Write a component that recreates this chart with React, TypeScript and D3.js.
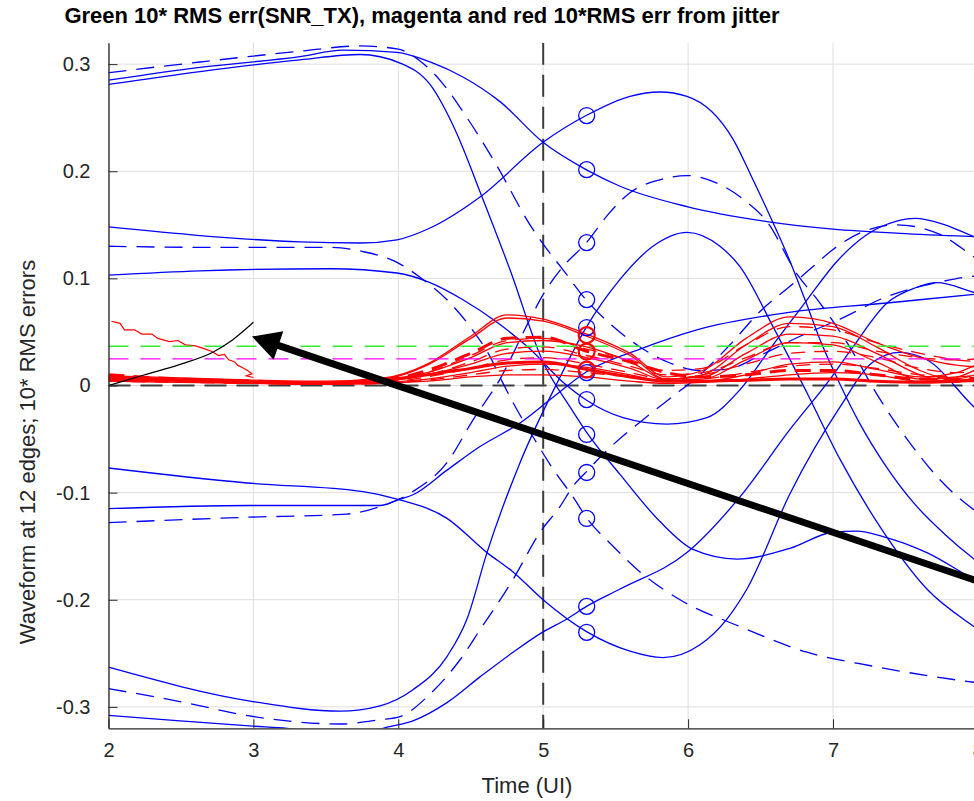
import * as d3 from 'd3';
import { useEffect, useRef } from 'react';

const W = 974;
const H = 801;

const X_TICKS = [2, 3, 4, 5, 6, 7, 8];
const Y_TICKS = [-0.3, -0.2, -0.1, 0, 0.1, 0.2, 0.3];

// blue waveforms of the 12 edges, [time (UI), value]
const edgeA = [[2, 0.281], [2.631, 0.293], [3.322, 0.304], [3.736, 0.309], [4.012, 0.301], [4.219, 0.281], [4.391, 0.239], [4.578, 0.176], [4.771, 0.108], [4.999, 0.022], [5.185, -0.02], [5.296, -0.043], [5.53, -0.083], [5.806, -0.127], [6.034, -0.153], [6.337, -0.162], [6.703, -0.152], [7.0, -0.137], [7.166, -0.136], [7.345, -0.141], [7.648, -0.156], [7.973, -0.181], [8.4, -0.21]];
const edgeB = [[2, 0.285], [2.631, 0.297], [3.322, 0.307], [3.618, 0.313], [3.991, 0.311], [4.219, 0.302], [4.446, 0.288], [4.702, 0.265], [4.999, 0.227], [5.296, 0.2015], [5.53, 0.186], [5.992, 0.167], [6.544, 0.153], [7.0, 0.146], [7.462, 0.142], [7.973, 0.139], [8.4, 0.137]];
const edgeC = [[2, 0.292], [2.631, 0.302], [3.322, 0.312], [3.736, 0.317], [4.0, 0.314], [4.15, 0.303], [4.3, 0.283], [4.474, 0.25], [4.681, 0.205], [4.909, 0.15], [5.0, 0.132], [5.137, 0.108], [5.296, 0.08], [5.475, 0.056], [5.668, 0.036], [5.875, 0.021], [6.082, 0.014], [6.268, 0.015], [6.496, 0.028], [6.773, 0.046], [7.049, 0.062], [7.373, 0.083], [7.717, 0.096], [7.973, 0.102], [8.4, 0.104]];
const edgeD = [[2, 0.148], [2.631, 0.14], [3.322, 0.134], [3.736, 0.133], [3.991, 0.136], [4.219, 0.147], [4.564, 0.176], [4.999, 0.227], [5.296, 0.252], [5.599, 0.27], [5.806, 0.274], [5.992, 0.27], [6.31, 0.23], [6.448, 0.192], [6.586, 0.152], [6.703, 0.116], [6.807, 0.08], [6.91, 0.043], [7.049, 0.001], [7.187, -0.036], [7.359, -0.074], [7.566, -0.111], [7.773, -0.139], [7.973, -0.162], [8.4, -0.2]];
const edgeE = [[2, 0.13], [2.631, 0.129], [3.529, 0.129], [3.757, 0.125], [3.991, 0.115], [4.17, 0.099], [4.336, 0.08], [4.495, 0.055], [4.633, 0.027], [4.723, 0.002], [4.8, -0.018], [4.93, -0.048], [5.068, -0.078], [5.206, -0.104], [5.302, -0.124], [5.482, -0.15], [5.668, -0.174], [5.944, -0.2], [6.358, -0.225], [6.821, -0.249], [7.276, -0.262], [7.973, -0.277], [8.4, -0.283]];
const edgeF = [[2, 0.103], [2.631, 0.107], [3.529, 0.109], [3.991, 0.105], [4.219, 0.096], [4.446, 0.08], [4.681, 0.059], [4.909, 0.034], [5.137, 0.003], [5.302, -0.014], [5.551, -0.03], [5.854, -0.036], [6.13, -0.03], [6.358, -0.004], [6.586, 0.038], [6.821, 0.08], [7.028, 0.116], [7.235, 0.141], [7.428, 0.153], [7.566, 0.156], [7.773, 0.15], [7.973, 0.139], [8.4, 0.125]];
const edgeG = [[2, -0.128], [2.956, -0.123], [3.646, -0.12], [3.874, -0.113], [4.101, -0.099], [4.336, -0.072], [4.516, -0.032], [4.702, 0.006], [4.909, 0.062], [5.0, 0.085], [5.137, 0.111], [5.296, 0.133], [5.45, 0.16], [5.599, 0.18], [5.806, 0.192], [5.992, 0.196], [6.199, 0.189], [6.379, 0.174], [6.544, 0.153], [6.752, 0.104], [6.91, 0.077], [7.097, 0.04], [7.325, -0.013], [7.511, -0.05], [7.738, -0.088], [7.973, -0.116], [8.4, -0.14]];
const edgeH = [[2, -0.115], [2.977, -0.112], [3.874, -0.112], [4.012, -0.106], [4.101, -0.102], [4.336, -0.079], [4.564, -0.057], [4.84, -0.035], [5.068, -0.011], [5.302, 0.013], [5.668, 0.034], [6.061, 0.052], [6.682, 0.068], [7.373, 0.077], [7.973, 0.085], [8.4, 0.09]];
const edgeI = [[2, -0.077], [2.956, -0.091], [3.757, -0.099], [3.991, -0.106], [4.336, -0.124], [4.612, -0.156], [4.792, -0.174], [4.999, -0.2], [5.302, -0.23], [5.599, -0.248], [5.826, -0.254], [6.082, -0.242], [6.268, -0.218], [6.406, -0.19], [6.703, -0.101], [7.049, -0.02], [7.276, 0.022], [7.462, 0.031], [7.648, 0.024], [7.973, -0.02], [8.4, -0.07]];
const edgeJ = [[2, -0.263], [2.997, -0.295], [3.598, -0.304], [3.874, -0.299], [4.101, -0.284], [4.336, -0.253], [4.474, -0.218], [4.612, -0.156], [4.84, -0.072], [5.102, 0.004], [5.296, 0.054], [5.53, 0.099], [5.757, 0.13], [5.992, 0.143], [6.22, 0.13], [6.358, 0.111], [6.586, 0.055], [6.821, -0.007], [7.049, -0.069], [7.325, -0.132], [7.648, -0.19], [7.973, -0.225], [8.4, -0.26]];
const edgeK = [[2, -0.283], [2.493, -0.295], [2.997, -0.309], [3.598, -0.316], [3.874, -0.312], [4.012, -0.309], [4.219, -0.288], [4.426, -0.256], [4.564, -0.228], [4.792, -0.181], [4.978, -0.137], [5.116, -0.113], [5.206, -0.094], [5.302, -0.08], [5.392, -0.067], [5.716, -0.029], [5.896, -0.01], [6.082, 0.01], [6.289, 0.038], [6.496, 0.069], [6.724, 0.095], [6.862, 0.111], [7.0, 0.127], [7.235, 0.145], [7.442, 0.15], [7.738, 0.141], [7.973, 0.12], [8.4, 0.08]];
const edgeL = [[2, -0.308], [2.493, -0.313], [2.997, -0.318], [3.232, -0.32], [3.529, -0.325], [3.736, -0.326], [3.922, -0.319], [4.101, -0.313], [4.336, -0.296], [4.564, -0.272], [4.792, -0.249], [4.999, -0.23], [5.164, -0.218], [5.302, -0.206], [5.53, -0.19], [5.992, -0.156], [6.358, -0.104], [6.703, -0.041], [6.98, 0.006], [7.138, 0.036], [7.373, 0.077], [7.565, 0.091], [7.717, 0.096], [7.973, 0.087], [8.4, 0.07]];

const BLUE_SOLID = [edgeA, edgeB, edgeD, edgeF, edgeH, edgeI, edgeJ, edgeL];
const BLUE_DASHED = [edgeC, edgeE, edgeG, edgeK];

// sampling instant and the values marked there
const SAMPLE_T = 5.3;
const SAMPLE_BLUE = [0.252, 0.2015, 0.1334, 0.0802, 0.0541, 0.0121, -0.0131, -0.0457, -0.0812, -0.1241, -0.2062, -0.2304];
const SAMPLE_RED = [0.047, 0.0317, 0.0149];

// red 10*RMS jitter error curves on a common time grid
const RED_T = [2, 2.5, 3, 3.5, 3.9, 4.2, 4.5, 4.75, 5.0, 5.3, 5.6, 5.85, 6.1, 6.4, 6.7, 7.0, 7.3, 7.6, 7.85, 8.1, 8.4];
const redSolid1 = [0.009, 0.007, 0.005, 0.004, 0.007, 0.02, 0.046, 0.066, 0.062, 0.048, 0.03, 0.008, 0.014, 0.044, 0.064, 0.058, 0.04, 0.026, 0.019, 0.017, 0.018];
const redSolid2 = [0.008, 0.006, 0.004, 0.003, 0.006, 0.019, 0.044, 0.063, 0.06, 0.046, 0.028, 0.006, 0.01, 0.038, 0.058, 0.055, 0.036, 0.014, 0.005, 0.01, 0.022];
const redSolid3 = [0.007, 0.005, 0.003, 0.003, 0.005, 0.012, 0.026, 0.04, 0.042, 0.036, 0.022, 0.006, 0.008, 0.03, 0.048, 0.046, 0.03, 0.01, 0.003, 0.014, 0.028];
const redSolid4 = [0.006, 0.004, 0.003, 0.002, 0.004, 0.01, 0.02, 0.03, 0.032, 0.026, 0.016, 0.005, 0.006, 0.024, 0.04, 0.038, 0.022, 0.006, 0.008, 0.022, 0.03];
const redSolid5 = [0.005, 0.004, 0.002, 0.002, 0.003, 0.006, 0.012, 0.018, 0.02, 0.017, 0.01, 0.004, 0.004, 0.01, 0.02, 0.022, 0.015, 0.008, 0.012, 0.024, 0.026];
const redSolid6 = [0.004, 0.003, 0.002, 0.001, 0.002, 0.004, 0.008, 0.01, 0.01, 0.008, 0.004, 0.002, 0.003, 0.006, 0.01, 0.012, 0.01, 0.004, 0.006, 0.014, 0.018];
const redDash1 = [0.007, 0.005, 0.003, 0.003, 0.005, 0.012, 0.028, 0.042, 0.044, 0.034, 0.024, 0.014, 0.016, 0.038, 0.055, 0.052, 0.04, 0.03, 0.024, 0.022, 0.024];
const redDash2 = [0.006, 0.004, 0.003, 0.002, 0.004, 0.01, 0.022, 0.034, 0.036, 0.028, 0.018, 0.01, 0.012, 0.026, 0.04, 0.04, 0.032, 0.026, 0.024, 0.026, 0.03];
const redDash3 = [0.005, 0.004, 0.002, 0.002, 0.003, 0.008, 0.016, 0.024, 0.026, 0.02, 0.012, 0.006, 0.01, 0.02, 0.03, 0.032, 0.026, 0.016, 0.012, 0.016, 0.02];
const redDash4 = [0.004, 0.003, 0.002, 0.001, 0.002, 0.005, 0.01, 0.014, 0.015, 0.012, 0.008, 0.005, 0.006, 0.012, 0.018, 0.02, 0.016, 0.01, 0.008, 0.012, 0.016];
const redThick = [0.008, 0.005, 0.003, 0.002, 0.005, 0.01, 0.016, 0.021, 0.022, 0.015, 0.008, 0.004, 0.004, 0.005, 0.006, 0.006, 0.004, 0.003, 0.004, 0.005, 0.006];
const redThickDash = [0.01, 0.006, 0.004, 0.002, 0.005, 0.014, 0.03, 0.044, 0.045, 0.032, 0.022, 0.012, 0.008, 0.01, 0.014, 0.014, 0.01, 0.006, 0.006, 0.008, 0.01];

const RED_SOLID = [redSolid1, redSolid2, redSolid3, redSolid4, redSolid5, redSolid6];
const RED_DASHED = [redDash1, redDash2, redDash3, redDash4];

// noisy red trace and black curve at the left
const JITTER_TRACE = [[2.02, 0.06], [2.08, 0.058], [2.11, 0.052], [2.18, 0.052], [2.23, 0.048], [2.3, 0.048], [2.34, 0.044], [2.42, 0.041], [2.48, 0.042], [2.53, 0.038], [2.6, 0.037], [2.67, 0.034], [2.71, 0.032], [2.76, 0.028], [2.8, 0.029], [2.83, 0.024], [2.87, 0.022], [2.89, 0.019], [2.92, 0.017], [2.96, 0.014], [2.99, 0.011], [2.95, 0.009], [3.0, 0.0075]];
const BLACK_CURVE = [[2, 0], [2.25, 0.01], [2.5, 0.02], [2.72, 0.031], [2.86, 0.043], [3.0, 0.059]];

const GREEN_LEVEL = 0.0367;
const MAGENTA_LEVEL = 0.0249;

const ARROW_TAIL = [8.6, -0.21];
const ARROW_TIP = [2.99, 0.0457];

export default function App() {
  const ref = useRef<SVGSVGElement>(null);

  useEffect(() => {
    const svg = d3.select(ref.current);
    svg.selectAll('*').remove();
    const font = "'Liberation Sans', Arial, Helvetica, sans-serif";

    const x = d3.scaleLinear().domain([2, 8.5]).range([108.5, 108.5 + 6.5 * 144.9]);
    const y = d3.scaleLinear().domain([-0.32, 0.32]).range([728.3, 42.7]);
    const [x0, x1] = x.range();
    const [yb, yt] = y.range();

    svg.append('rect').attr('width', W).attr('height', H).attr('fill', '#fff');

    svg.append('defs').append('clipPath').attr('id', 'plotclip')
      .append('rect').attr('x', x0).attr('y', yt).attr('width', x1 - x0).attr('height', yb - yt);

    // grid
    const grid = svg.append('g').attr('stroke', '#dedede').attr('stroke-width', 1);
    X_TICKS.forEach(t => grid.append('line')
      .attr('x1', x(t)).attr('x2', x(t)).attr('y1', yt).attr('y2', yb));
    Y_TICKS.forEach(t => grid.append('line')
      .attr('x1', x0).attr('x2', x1).attr('y1', y(t)).attr('y2', y(t)));

    const plot = svg.append('g').attr('clip-path', 'url(#plotclip)');

    // reference lines
    plot.append('line').attr('x1', x(5)).attr('x2', x(5)).attr('y1', yt).attr('y2', yb)
      .attr('stroke', '#3d3d3d').attr('stroke-width', 2).attr('stroke-dasharray', '22,10');
    plot.append('line').attr('x1', x0).attr('x2', x1).attr('y1', y(0)).attr('y2', y(0))
      .attr('stroke', '#3d3d3d').attr('stroke-width', 2).attr('stroke-dasharray', '22,10');

    const line = d3.line<number[]>()
      .x(d => x(d[0]))
      .y(d => y(d[1]))
      .curve(d3.curveMonotoneX);

    BLUE_SOLID.forEach(c => plot.append('path').attr('d', line(c))
      .attr('fill', 'none').attr('stroke', '#0000ff').attr('stroke-width', 1.3));
    BLUE_DASHED.forEach(c => plot.append('path').attr('d', line(c))
      .attr('fill', 'none').attr('stroke', '#0000ff').attr('stroke-width', 1.3)
      .attr('stroke-dasharray', '18,10'));

    const red = (vals: number[]) => RED_T.map((t, i) => [t, vals[i]]);
    RED_SOLID.forEach(v => plot.append('path').attr('d', line(red(v)))
      .attr('fill', 'none').attr('stroke', '#ff0000').attr('stroke-width', 1.3));
    RED_DASHED.forEach(v => plot.append('path').attr('d', line(red(v)))
      .attr('fill', 'none').attr('stroke', '#ff0000').attr('stroke-width', 1.3)
      .attr('stroke-dasharray', '14,9'));
    plot.append('path').attr('d', line(red(redThick)))
      .attr('fill', 'none').attr('stroke', '#ff0000').attr('stroke-width', 3);
    plot.append('path').attr('d', line(red(redThickDash)))
      .attr('fill', 'none').attr('stroke', '#ff0000').attr('stroke-width', 3)
      .attr('stroke-dasharray', '16,9');

    plot.append('path').attr('d', d3.line<number[]>().x(d => x(d[0])).y(d => y(d[1]))(JITTER_TRACE))
      .attr('fill', 'none').attr('stroke', '#ff0000').attr('stroke-width', 1.2);

    // RMS levels
    plot.append('line').attr('x1', x0).attr('x2', x1).attr('y1', y(GREEN_LEVEL)).attr('y2', y(GREEN_LEVEL))
      .attr('stroke', '#33ee33').attr('stroke-width', 1.5).attr('stroke-dasharray', '20,12');
    plot.append('line').attr('x1', x0).attr('x2', x1).attr('y1', y(MAGENTA_LEVEL)).attr('y2', y(MAGENTA_LEVEL))
      .attr('stroke', '#ff00ff').attr('stroke-width', 1.2).attr('stroke-dasharray', '20,12');

    // sample markers
    SAMPLE_BLUE.forEach(v => plot.append('circle').attr('cx', x(SAMPLE_T)).attr('cy', y(v)).attr('r', 8)
      .attr('fill', 'none').attr('stroke', '#0000ff').attr('stroke-width', 1.3));
    SAMPLE_RED.forEach(v => plot.append('circle').attr('cx', x(SAMPLE_T)).attr('cy', y(v)).attr('r', 8)
      .attr('fill', 'none').attr('stroke', '#ff0000').attr('stroke-width', 2.2));

    plot.append('path').attr('d', line(BLACK_CURVE))
      .attr('fill', 'none').attr('stroke', '#000').attr('stroke-width', 1.2);

    // axes
    const yAxis = svg.append('g').attr('transform', `translate(${x0},0)`)
      .call(d3.axisLeft(y).tickValues(Y_TICKS).tickSize(-9).tickSizeOuter(0).tickPadding(18)
        .tickFormat(d => (+d === 0 ? '0' : (+d).toFixed(1))));
    const xAxis = svg.append('g').attr('transform', `translate(0,${yb})`)
      .call(d3.axisBottom(x).tickValues(X_TICKS).tickSize(-9).tickSizeOuter(0).tickPadding(15)
        .tickFormat(d => String(d)));
    [yAxis, xAxis].forEach(g => {
      g.attr('font-family', font).attr('font-size', 20);
      g.select('.domain').attr('stroke', '#262626').attr('stroke-width', 1.3);
      g.selectAll('.tick line').attr('stroke', '#262626');
      g.selectAll('.tick text').attr('fill', '#262626');
    });

    // arrow annotation
    const sx = x(ARROW_TAIL[0]), sy = y(ARROW_TAIL[1]);
    const tx = x(ARROW_TIP[0]), ty = y(ARROW_TIP[1]);
    const len = Math.hypot(tx - sx, ty - sy);
    const ux = (tx - sx) / len, uy = (ty - sy) / len;
    const bx = tx - ux * 28, by = ty - uy * 28;
    svg.append('line').attr('x1', sx).attr('y1', sy).attr('x2', bx + ux * 2).attr('y2', by + uy * 2)
      .attr('stroke', '#000').attr('stroke-width', 7);
    svg.append('polygon')
      .attr('points', [[tx, ty], [bx - uy * 15, by + ux * 15], [bx + uy * 15, by - ux * 15]].map(p => p.join(',')).join(' '))
      .attr('fill', '#000');

    // labels
    svg.append('text').attr('x', 422).attr('y', 23).attr('text-anchor', 'middle')
      .attr('font-family', font).attr('font-size', 22).attr('font-weight', 'bold').attr('fill', '#000')
      .text('Green 10* RMS err(SNR_TX), magenta and red 10*RMS err from jitter');
    svg.append('text').attr('x', 527).attr('y', 793).attr('text-anchor', 'middle')
      .attr('font-family', font).attr('font-size', 22).attr('fill', '#262626')
      .text('Time (UI)');
    svg.append('text').attr('transform', 'translate(27,452) rotate(-90)').attr('dy', '0.35em')
      .attr('text-anchor', 'middle')
      .attr('font-family', font).attr('font-size', 22).attr('fill', '#262626')
      .text('Waveform at 12 edges; 10* RMS errors');
  }, []);

  return (
    <svg ref={ref} width={W} height={H} style={{ position: 'absolute', left: 0, top: 0, display: 'block' }} />
  );
}
